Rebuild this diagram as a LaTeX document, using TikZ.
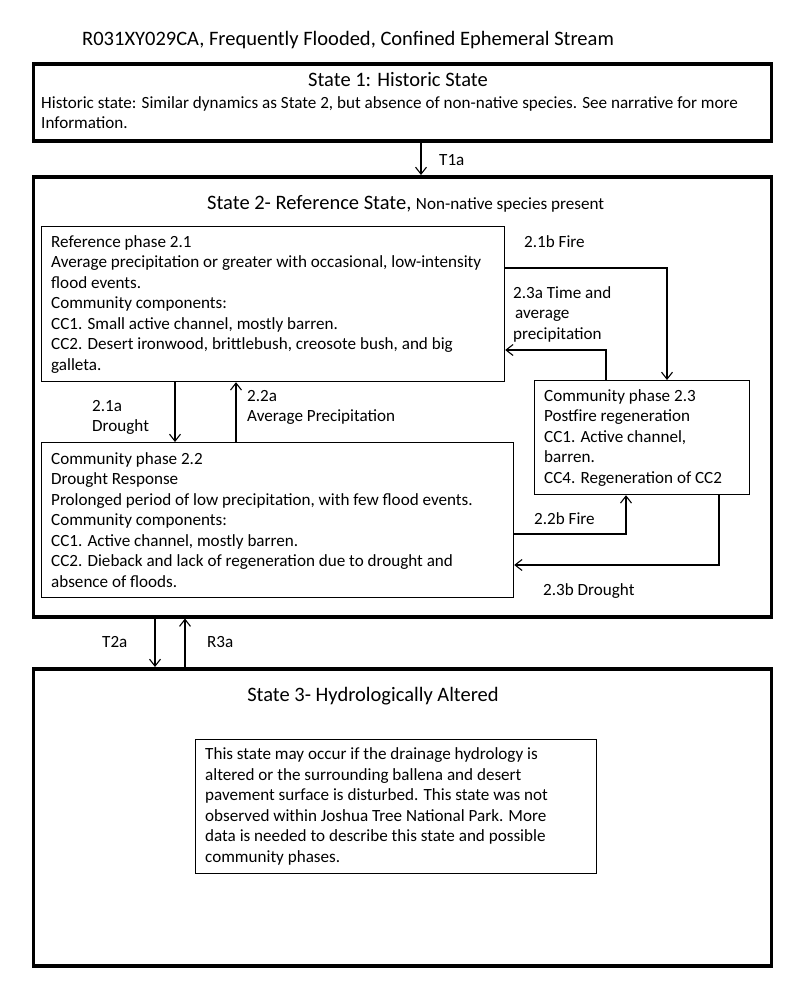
\documentclass[tikz,border=0pt]{standalone}
\usepackage{fontspec}
\setmainfont{Carlito}
\usetikzlibrary{arrows.meta}
\begin{document}
\begin{tikzpicture}[x=1pt,y=-1pt,
  statebox/.style={draw, line width=3.5pt, rectangle, inner sep=0pt, anchor=north west},
  phasebox/.style={draw, line width=1.2pt, rectangle, inner sep=0pt, anchor=north west},
  body/.style={font=\fontsize{17.1}{20.5}\selectfont, inner sep=0pt, align=left, anchor=west},
  big/.style={font=\fontsize{20.5}{24}\selectfont, inner sep=0pt},
  lbl/.style={font=\fontsize{17.1}{20.5}\selectfont, inner sep=0pt, anchor=base west},
  arr/.style={line width=1.1pt, -{Straight Barb[length=7pt,width=11pt]}}
]
\useasboundingbox[fill=white] (0,0) rectangle (800,985);

% state boxes
\node[statebox, minimum width=738pt, minimum height=77pt] (S1) at (31.5,62) {};
\node[statebox, minimum width=738pt, minimum height=440pt] (S2) at (31.5,175) {};
\node[statebox, minimum width=738pt, minimum height=297pt] (S3) at (31.5,667) {};

% phase boxes
\node[phasebox, minimum width=463pt, minimum height=155pt] (b21) at (41,226) {};
\node[phasebox, minimum width=472pt, minimum height=155pt] (b22) at (41,442) {};
\node[phasebox, minimum width=215pt, minimum height=114pt] (b23) at (534,380) {};
\node[phasebox, minimum width=401pt, minimum height=134pt] (b3) at (195,739) {};

% titles
\node[big, anchor=base west] (title) at (82,45.6) {R031XY029CA, Frequently Flooded, Confined Ephemeral Stream};
\node[big, anchor=base] (s1t) at (398,86.6) {State 1: Historic State};
\node[lbl] (s1a) at (41,108.5) {Historic state: Similar dynamics as State 2, but absence of non-native species. See narrative for more};
\node[lbl] (s1b) at (41,128.7) {Information.};
\node[big, anchor=base west] (s2t) at (207,209.6) {State 2- Reference State, {\fontsize{17.1}{20}\selectfont Non-native species present}};
\node[big, anchor=base] (s3t) at (373,701.6) {State 3- Hydrologically Altered};

% box texts
\node[body] (t21) at ([xshift=10pt]b21.west) {Reference phase 2.1\\Average precipitation or greater with occasional, low-intensity\\flood events.\\Community components:\\CC1. Small active channel, mostly barren.\\CC2. Desert ironwood, brittlebush, creosote bush, and big\\galleta.};
\node[body] (t22) at ([xshift=10pt]b22.west) {Community phase 2.2\\Drought Response\\Prolonged period of low precipitation, with few flood events.\\Community components:\\CC1. Active channel, mostly barren.\\CC2. Dieback and lack of regeneration due to drought and\\absence of floods.};
\node[body] (t23) at ([xshift=10pt]b23.west) {Community phase 2.3\\Postfire regeneration\\CC1. Active channel,\\barren.\\CC4. Regeneration of CC2};
\node[body] (t3) at ([xshift=10pt]b3.west) {This state may occur if the drainage hydrology is\\altered or the surrounding ballena and desert\\pavement surface is disturbed. This state was not\\observed within Joshua Tree National Park. More\\data is needed to describe this state and possible\\community phases.};

% connector coordinates
\coordinate (xT1) at (421,0);
\coordinate (x21a) at (175,0);
\coordinate (x22a) at (236,0);
\coordinate (y21b) at (0,268);
\coordinate (x21b) at (667,0);
\coordinate (x23a) at (606,0);
\coordinate (y23a) at (0,350);
\coordinate (y22b) at (0,534);
\coordinate (x22b) at (626,0);
\coordinate (x23b) at (719,0);
\coordinate (y23b) at (0,565);
\coordinate (xT2) at (155,0);
\coordinate (xR3) at (185,0);

% connectors
\draw[arr] (S1.south -| xT1) -- (S2.north -| xT1);
\draw[arr] (b21.south -| x21a) -- (b22.north -| x21a);
\draw[arr] (b22.north -| x22a) -- (b21.south -| x22a);
\draw[arr] (b21.east |- y21b) -| (b23.north -| x21b);
\draw[arr] (b23.north -| x23a) |- (b21.east |- y23a);
\draw[arr] (b22.east |- y22b) -| (b23.south -| x22b);
\draw[arr] (b23.south -| x23b) |- (b22.east |- y23b);
\draw[arr] (S2.south -| xT2) -- (S3.north -| xT2);
\draw[arr] (S3.north -| xR3) -- (S2.south -| xR3);

% labels
\node[lbl] (lT1) at (439,165.5) {T1a};
\node[lbl] (l21b) at (524,247.5) {2.1b Fire};
\node[lbl] (l23a1) at (513,298.5) {2.3a Time and};
\node[lbl] (l23a2) at (515,318.5) {average};
\node[lbl] (l23a3) at (513,339.5) {precipitation};
\node[lbl] (l21a1) at (92,411.5) {2.1a};
\node[lbl] (l21a2) at (92,431.5) {Drought};
\node[lbl] (l22a1) at (247,401.5) {2.2a};
\node[lbl] (l22a2) at (247,421.5) {Average Precipitation};
\node[lbl] (l22b) at (534,524.5) {2.2b Fire};
\node[lbl] (l23b) at (543,595.5) {2.3b Drought};
\node[lbl] (lT2) at (102,647.5) {T2a};
\node[lbl] (lR3) at (207,647.5) {R3a};
\end{tikzpicture}
\end{document}
